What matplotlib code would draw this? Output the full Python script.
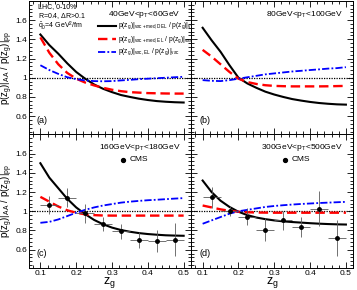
import numpy as np
import matplotlib
matplotlib.use("Agg")
import matplotlib.pyplot as plt
from matplotlib.ticker import MultipleLocator

plt.rcParams['font.family'] = ['Liberation Sans', 'DejaVu Sans']
plt.rcParams['mathtext.default'] = 'regular'

# z_g grid for the model curves
zg = [0.1, 0.125, 0.15, 0.175, 0.2, 0.225, 0.25, 0.275, 0.3,
      0.325, 0.35, 0.375, 0.4, 0.425, 0.45, 0.475, 0.5]

# (a) 40 < pT < 60 GeV
a_del = [1.45, 1.34, 1.25, 1.15, 1.06, 0.99, 0.93, 0.885, 0.85,
         0.82, 0.80, 0.782, 0.768, 0.757, 0.75, 0.745, 0.742]
a_el = [1.42, 1.26, 1.14, 1.05, 0.99, 0.95, 0.92, 0.895, 0.875,
        0.86, 0.85, 0.845, 0.84, 0.838, 0.836, 0.835, 0.835]
a_vac = [1.13, 1.08, 1.04, 1.005, 0.985, 0.972, 0.965, 0.963, 0.965,
         0.972, 0.978, 0.985, 0.99, 0.995, 1.0, 1.005, 1.01]

# (b) 80 < pT < 100 GeV
b_del = [1.52, 1.39, 1.27, 1.13, 1.0, 0.94, 0.895, 0.855, 0.825,
         0.80, 0.778, 0.762, 0.748, 0.737, 0.729, 0.723, 0.72]
b_el = [1.29, 1.22, 1.14, 1.06, 0.99, 0.955, 0.935, 0.922, 0.915,
        0.912, 0.91, 0.91, 0.91, 0.91, 0.911, 0.913, 0.915]
b_vac = [0.975, 0.968, 0.965, 0.975, 0.99, 1.005, 1.02, 1.035, 1.045,
         1.055, 1.065, 1.072, 1.08, 1.087, 1.095, 1.1, 1.11]

# (c) 160 < pT < 180 GeV
c_del = [1.50, 1.35, 1.24, 1.13, 1.04, 0.97, 0.91, 0.865, 0.83,
         0.805, 0.787, 0.773, 0.763, 0.756, 0.75, 0.747, 0.745]
c_el = [1.15, 1.10, 1.05, 1.01, 0.985, 0.968, 0.96, 0.956, 0.955,
        0.955, 0.955, 0.955, 0.955, 0.955, 0.955, 0.955, 0.955]
c_vac = [0.88, 0.89, 0.915, 0.95, 0.985, 1.015, 1.04, 1.06, 1.075,
         1.09, 1.10, 1.108, 1.115, 1.12, 1.126, 1.132, 1.137]

# (d) 300 < pT < 500 GeV
d_del = [1.32, 1.20, 1.11, 1.045, 0.995, 0.96, 0.935, 0.918, 0.905,
         0.895, 0.888, 0.882, 0.876, 0.871, 0.867, 0.864, 0.862]
d_el = [1.06, 1.04, 1.02, 1.005, 0.995, 0.99, 0.987, 0.986, 0.985,
        0.985, 0.985, 0.985, 0.985, 0.985, 0.985, 0.985, 0.985]
d_vac = [0.87, 0.905, 0.94, 0.975, 1.0, 1.015, 1.03, 1.045, 1.055,
         1.063, 1.07, 1.076, 1.081, 1.086, 1.09, 1.094, 1.098]

# CMS data
cms_z = [0.125, 0.175, 0.225, 0.275, 0.325, 0.375, 0.425, 0.475]
cms_c = [1.066, 1.14, 0.98, 0.87, 0.79, 0.70, 0.69, 0.705]
cms_c_err = [0.09, 0.10, 0.10, 0.075, 0.08, 0.08, 0.11, 0.17]
cms_d = [1.144, 1.0, 0.944, 0.81, 0.905, 0.84, 1.028, 0.72]
cms_d_err = [0.105, 0.05, 0.09, 0.12, 0.095, 0.105, 0.186, 0.19]

fig, axes = plt.subplots(2, 2, figsize=(3.57, 2.90), dpi=100, sharex=True, sharey=True)
fig.subplots_adjust(left=0.08, right=0.989, bottom=0.076, top=0.997, wspace=0, hspace=0)

panels = [
    (axes[0, 0], a_del, a_el, a_vac, '(a)', '40GeV<p$_T$<60GeV', None, None),
    (axes[0, 1], b_del, b_el, b_vac, '(b)', '80GeV<p$_T$<100GeV', None, None),
    (axes[1, 0], c_del, c_el, c_vac, '(c)', '160GeV<p$_T$<180GeV', cms_c, cms_c_err),
    (axes[1, 1], d_del, d_el, d_vac, '(d)', '300GeV<p$_T$<500GeV', cms_d, cms_d_err),
]

for ax, ydel, yel, yvac, tag, ptlab, cms, cerr in panels:
    ax.axhline(1.0, color='black', ls=(0, (1, 1)), lw=0.9, zorder=1)
    ax.plot(zg, ydel, color='black', lw=1.5, zorder=3)
    ax.plot(zg, yel, color='red', lw=1.7, ls=(0, (4, 2)), zorder=3)
    ax.plot(zg, yvac, color='blue', lw=1.3, ls=(0, (4, 1.2, 1, 1.2)), zorder=3)
    if cms is not None:
        ax.errorbar(cms_z, cms, yerr=cerr, xerr=0.025, fmt='o', color='black',
                    ecolor='0.35', elinewidth=0.6, capsize=0, ms=2.5, zorder=4)
        ax.plot([0.33], [1.535], 'o', color='black', ms=2.8)
        ax.text(0.348, 1.535, 'CMS', fontsize=6, va='center')
    ax.text(0.492, 1.66, ptlab, fontsize=6, ha='right', va='center')
    ax.text(0.09, 0.56, tag, fontsize=6.5, va='center')

    ax.set_xlim(0.067, 0.52)
    ax.set_ylim(0.41, 1.8)
    ax.set_xticks([0.1, 0.2, 0.3, 0.4, 0.5])
    ax.set_xticklabels(['0.1', '0.2', '0.3', '0.4', '0.5'])
    ax.set_yticks([0.6, 0.8, 1.0, 1.2, 1.4, 1.6])
    ax.set_yticklabels(['0.6', '0.8', '1', '1.2', '1.4', '1.6'])
    ax.xaxis.set_minor_locator(MultipleLocator(0.02))
    ax.yaxis.set_minor_locator(MultipleLocator(0.04))
    ax.tick_params(which='both', direction='in', top=True, right=True,
                   labelsize=6, width=0.6, pad=1.2)
    ax.tick_params(which='major', length=4)
    ax.tick_params(which='minor', length=2)
    for s in ax.spines.values():
        s.set_linewidth(0.7)

# legend and header text in panel (a)
ax = axes[0, 0]
ax.text(0.092, 1.74, 'LHC, 0-10%', fontsize=5, va='center')
ax.text(0.092, 1.645, r'R=0.4, $\Delta$R>0.1', fontsize=5, va='center')
ax.text(0.092, 1.535, r'$\hat{q}_0$=4 GeV$^2$/fm', fontsize=5, va='center')
leg_y = [1.54, 1.40, 1.27]
leg_txt = [r'p(z$_g$)|$_{vac+med,DEL}$ / p(z$_g$)|$_{vac}$',
           r'p(z$_g$)|$_{vac+med,EL}$ / p(z$_g$)|$_{vac}$',
           r'p(z$_g$)|$_{vac,EL}$ / p(z$_g$)|$_{vac}$']
leg_sty = [dict(color='black', lw=1.5),
           dict(color='red', lw=1.7, ls=(0, (4, 2))),
           dict(color='blue', lw=1.3, ls=(0, (4, 1.2, 1, 1.2)))]
for yy, tt, st in zip(leg_y, leg_txt, leg_sty):
    ax.plot([0.262, 0.31], [yy, yy], clip_on=False, **st)
    ax.text(0.318, yy, tt, fontsize=4.8, va='center', clip_on=False)

for ax in axes[:, 0]:
    ax.set_ylabel(r'p(z$_g$)|$_{AA}$ / p(z$_g$)|$_{pp}$', fontsize=7)
    ax.yaxis.set_label_coords(-0.085, 0.5)
for ax in axes[1, :]:
    ax.set_xlabel(r'z$_g$', fontsize=9, labelpad=-1)

fig.savefig('out.png', dpi=100)
